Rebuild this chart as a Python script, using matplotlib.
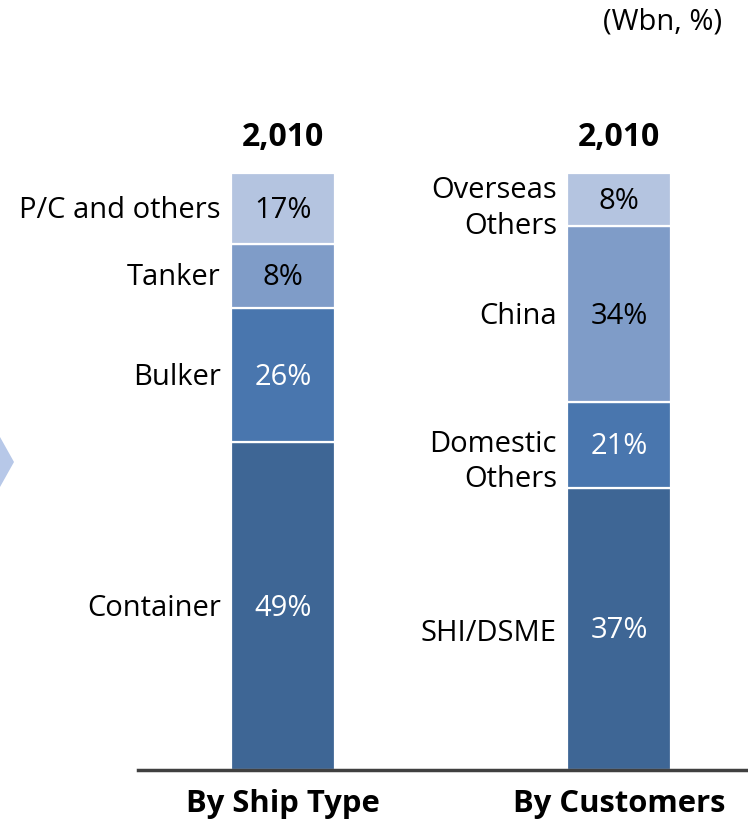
import matplotlib
matplotlib.use("Agg")
import matplotlib.pyplot as plt
from matplotlib.patches import Polygon

plt.rcParams['font.family'] = ['Open Sans', 'DejaVu Sans']

# ---- data ----
groups = ["By Ship Type", "By Customers"]
totals = ["2,010", "2,010"]
unit_label = "(Wbn, %)"

ship_labels = ["Container", "Bulker", "Tanker", "P/C and others"]
ship_pct = [49, 26, 8, 17]
ship_heights = [54.9, 22.5, 10.7, 11.9]   # drawn segment heights

cust_labels = ["SHI/DSME", "Domestic\nOthers", "China", "Overseas\nOthers"]
cust_pct = [37, 21, 34, 8]
cust_heights = [47.3, 14.3, 29.5, 8.9]

seg_colors = ["#3E6695", "#4976AE", "#7F9CC8", "#B4C4E0"]
txt_colors = ["white", "white", "black", "black"]
ship_label_dy = [0, 0, 0, 0]        # vertical nudge of category labels (pixels)
cust_label_dy = [-3, -15, 0, -7]

W, H = 748, 823
fig = plt.figure(figsize=(W / 100, H / 100), dpi=100)

ax_left, ax_right = 138, 748
ax_bot, ax_top = 770, 173
ax = fig.add_axes([ax_left / W, 1 - ax_bot / H, (ax_right - ax_left) / W, (ax_bot - ax_top) / H])

xpos = [0, 1]
bar_w = 104 / 336
ax.set_xlim(-(283 - 138) / 336, (748 - 283) / 336)
ax.set_ylim(0, 100)
px = 100 / (ax_bot - ax_top)   # data units per pixel

FS = 21

def draw(x, heights, pcts, labels, dys):
    bottom = 0
    for h, p, lab, c, tc, dy in zip(heights, pcts, labels, seg_colors, txt_colors, dys):
        ax.bar(x, h, bottom=bottom, width=bar_w, color=c, edgecolor="white", linewidth=1.6)
        mid = bottom + h / 2
        ax.text(x, mid - 2 * px, f"{p}%", ha="center", va="center", color=tc, fontsize=FS)
        ax.text(x - bar_w / 2 - 0.03, mid + (dy - 2) * px, lab, ha="right", va="center",
                color="black", fontsize=FS, linespacing=1.3)
        bottom += h

draw(xpos[0], ship_heights, ship_pct, ship_labels, ship_label_dy)
draw(xpos[1], cust_heights, cust_pct, cust_labels, cust_label_dy)

for x, t, g in zip(xpos, totals, groups):
    ax.text(x, 100 + 35 * px, t, ha="center", va="center", fontsize=23, fontweight="bold", clip_on=False)
    ax.text(x, -34 * px, g, ha="center", va="center", fontsize=22.3, fontweight="bold", clip_on=False)

for s in ["top", "right", "left"]:
    ax.spines[s].set_visible(False)
ax.spines["bottom"].set_color("#404040")
ax.spines["bottom"].set_linewidth(2.5)
ax.set_xticks([])
ax.set_yticks([])

fig.text(722 / W, 1 - 22 / H, unit_label, ha="right", va="center", fontsize=FS)

# chevron arrow at left edge
chev = Polygon([(0, 1 - 437 / H), (14 / W, 1 - 462 / H), (0, 1 - 487 / H)],
               closed=True, transform=fig.transFigure, facecolor="#B7C8E8", edgecolor="none")
fig.patches.append(chev)

fig.savefig("out.png", dpi=100)
